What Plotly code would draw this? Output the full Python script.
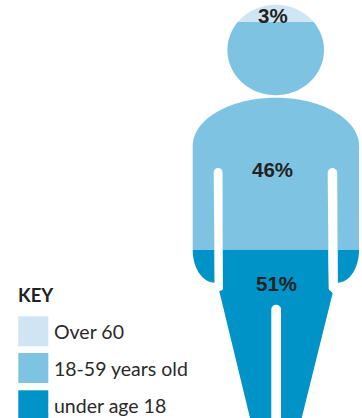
import numpy as np
import plotly.graph_objects as go

# Data
age_labels = ["Over 60", "18-59 years old", "under age 18"]
age_shares = ["3%", "46%", "51%"]
age_colors = ["#cfe5f3", "#7fc3e3", "#0093c8"]
key_title = "KEY"

# Pictogram geometry, in image pixels
W, H = 362, 418
head_cx, head_cy, head_rx, head_ry = 275.7, 50, 48.3, 45.2
cap_y = 22
split_y = 250


def path(points):
    return "M " + " L ".join(f"{x:.2f},{y:.2f}" for x, y in points) + " Z"


def arc(cx, cy, rx, ry, a0, a1, n=40):
    t = np.radians(np.linspace(a0, a1, n))
    return list(zip(cx + rx * np.cos(t), cy + ry * np.sin(t)))


cap_a = np.degrees(np.arcsin((cap_y - head_cy) / head_ry))
cap = arc(head_cx, head_cy, head_rx, head_ry, 180 - cap_a, 360 + cap_a)
head_rest = arc(head_cx, head_cy, head_rx, head_ry, cap_a, 180 - cap_a, 90)

# Shoulder curve and torso down to the colour split
shoulders = arc(275.9, 146, 83.2, 48.3, 180, 360, 80)
upper_body = [(192.7, split_y)] + shoulders + [(359, split_y)]

arm_l = [(214.7, split_y)] + arc(214.7, 250, 22, 32.7, 180, 90, 20)
arm_r = [(337.5, split_y)] + arc(337.5, 250, 21.5, 32.7, 0, 90, 20)
legs = [(222.4, split_y), (222.7, 289.7), (219.3, 291.3), (250, 418), (301.7, 418),
        (332.7, 293), (329, 289.7), (328.4, split_y)]


def gap(x0, x1, top, bottom, x0b=None, x1b=None):
    x0b = x0 if x0b is None else x0b
    x1b = x1 if x1b is None else x1b
    cx, r = (x0 + x1) / 2, (x1 - x0) / 2
    return [(x0b, bottom)] + arc(cx, top + r, r, r, 180, 360, 16) + [(x1b, bottom)]


gaps = [
    gap(213.7, 222.5, 168, 289, 214.7, 222.7),
    gap(327.7, 337.2, 168, 289, 328.7, 337.7),
    gap(271.3, 281, 304.7, 419),
]

shapes = []


def add(points, color):
    shapes.append(dict(type="path", path=path(points), fillcolor=color,
                       line=dict(width=0), layer="below"))


add(cap, age_colors[0])
add(head_rest, age_colors[1])
add(upper_body, age_colors[1])
add(arm_l, age_colors[2])
add(arm_r, age_colors[2])
add(legs, age_colors[2])
for g in gaps:
    add(g, "#ffffff")

# Key swatches
swatch_x = (18.3, 48.3)
swatch_y = [(316.3, 346.3), (353, 383), (390.3, 420)]
for (y0, y1), c in zip(swatch_y, age_colors):
    shapes.append(dict(type="rect", x0=swatch_x[0], x1=swatch_x[1], y0=y0, y1=y1,
                       fillcolor=c, line=dict(width=0), layer="below"))

annotations = []
share_x = [273, 272, 276]
share_y = [15, 169, 283.5]
for txt, x, y in zip(age_shares, share_x, share_y):
    annotations.append(dict(x=x, y=y, text=f"<b>{txt}</b>",
                            showarrow=False, xanchor="center", yanchor="middle",
                            font=dict(family="Liberation Sans", size=20.5, color="#222222")))
for txt, y in zip(age_labels, [331, 368.5, 405.5]):
    annotations.append(dict(x=52, y=y, text=txt, showarrow=False, xanchor="left", yanchor="middle",
                            font=dict(family="Lato", size=19.5, color="#2a2a2a")))
annotations.append(dict(x=16, y=295, text=f"<b>{key_title}</b>", showarrow=False,
                        xanchor="left", yanchor="middle",
                        font=dict(family="Lato", size=18.5, color="#222222")))

fig = go.Figure()
fig.update_layout(
    width=W, height=H, margin=dict(l=0, r=0, t=0, b=0), showlegend=False,
    paper_bgcolor="white", plot_bgcolor="white", shapes=shapes, annotations=annotations,
    xaxis=dict(range=[0, W], visible=False, fixedrange=True),
    yaxis=dict(range=[H, 0], visible=False, fixedrange=True),
)
fig.write_html("out.html", config=dict(displayModeBar=False),
               post_script="document.body.style.margin='0';document.documentElement.style.overflow='hidden';")
